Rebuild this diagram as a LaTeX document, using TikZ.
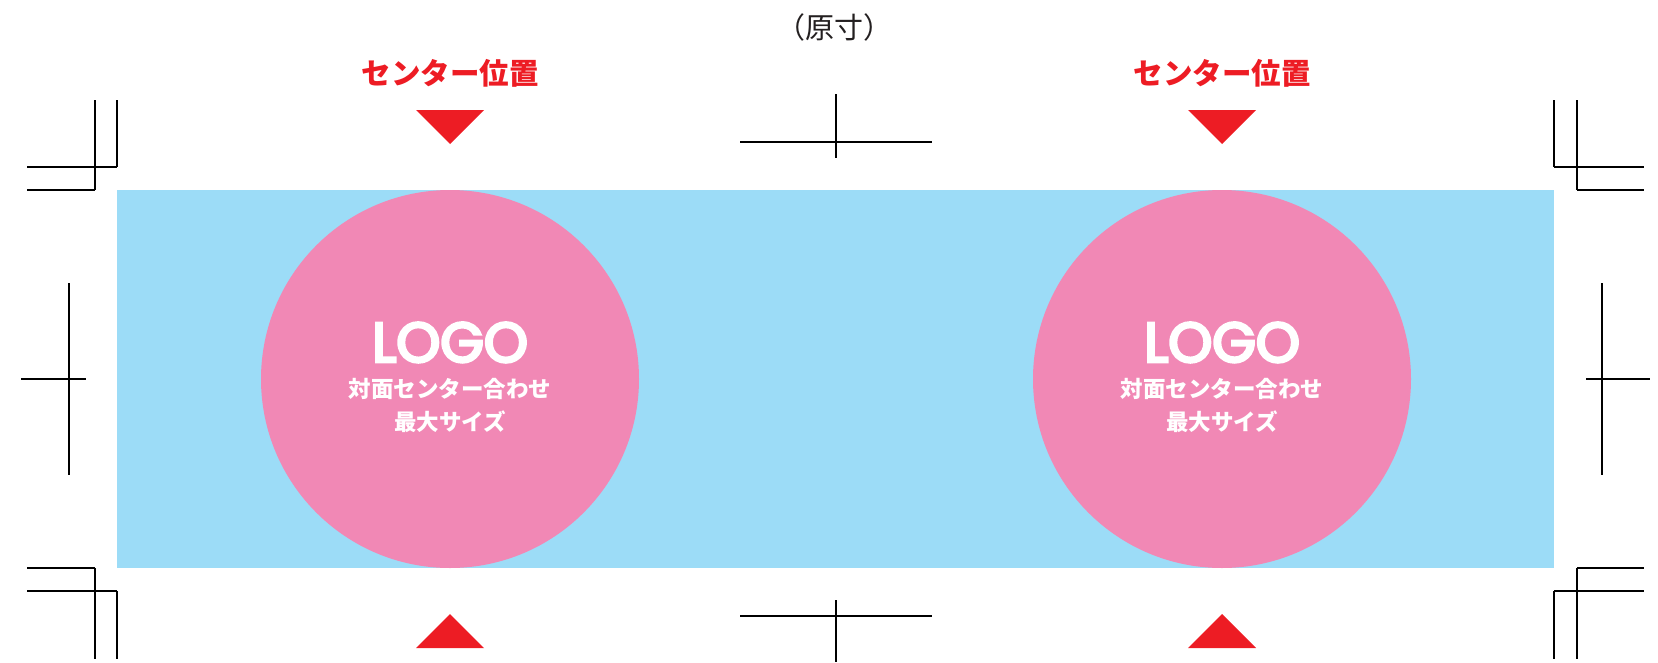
\documentclass[tikz,border=0pt]{standalone}
\usepackage{fontspec}
\newfontfamily\jp{Noto Sans CJK JP}
\newfontfamily\logofont{Poppins}[FakeBold=5]
\definecolor{bgblue}{HTML}{9CDCF7}
\definecolor{logopink}{HTML}{F188B5}
\definecolor{markred}{HTML}{ED1C24}
\definecolor{titlegray}{HTML}{231F20}
\begin{document}
\begin{tikzpicture}[x=1pt,y=-1pt,
  crop/.style={line width=1.1pt,black},
  tri/.style={fill=markred,draw=none},
  redlabel/.style={text=markred,font=\jp\bfseries\fontsize{29.5}{32}\selectfont,inner sep=0pt},
  logocircle/.style={circle,fill=logopink,minimum size=378pt,inner sep=0pt},
  logotext/.style={text=white,font=\logofont\fontsize{56}{56}\selectfont,inner sep=0pt,text height=40pt,text depth=0pt},
  subtext/.style={text=white,font=\jp\bfseries\fontsize{22.5}{33}\selectfont,inner sep=0pt,align=center}]
\useasboundingbox (0,0) rectangle (1658,662);
% background area
\fill[bgblue] (117,190) rectangle (1554,568);
% circles
\node[logocircle] (c1) at (450,379) {};
\node[logocircle] (c2) at (1222,379) {};
\foreach \c/\x in {1/450,2/1222}{
  \node[logotext] (logo\c) at (\x,342) {LOGO};
  \node[subtext] (s\c) at (\x,405) {対面センター合わせ\\最大サイズ};
  \node[redlabel] (r\c) at (\x,73) {センター位置};
}
% title
\node[text=titlegray,font=\jp\fontsize{29}{32}\selectfont,inner sep=0pt] (title) at (834,27) {（原寸）};
% triangles
\fill[tri] (416,110) -- (484,110) -- (450,144) -- cycle;
\fill[tri] (1188,110) -- (1256,110) -- (1222,144) -- cycle;
\fill[tri] (416,648) -- (484,648) -- (450,614) -- cycle;
\fill[tri] (1188,648) -- (1256,648) -- (1222,614) -- cycle;
% corner crop marks
\draw[crop] (95,100) -- (95,190);
\draw[crop] (117,100) -- (117,167);
\draw[crop] (27,167) -- (117,167);
\draw[crop] (27,190) -- (95,190);
\draw[crop] (27,568) -- (95,568);
\draw[crop] (95,568) -- (95,659);
\draw[crop] (27,591) -- (117,591);
\draw[crop] (117,591) -- (117,659);
\draw[crop] (1554,100) -- (1554,167);
\draw[crop] (1577,100) -- (1577,190);
\draw[crop] (1554,167) -- (1644,167);
\draw[crop] (1577,190) -- (1644,190);
\draw[crop] (1577,568) -- (1644,568);
\draw[crop] (1577,568) -- (1577,659);
\draw[crop] (1554,591) -- (1644,591);
\draw[crop] (1554,591) -- (1554,659);
% center crop marks
\draw[crop] (740,142) -- (932,142);
\draw[crop] (836,94) -- (836,158);
\draw[crop] (740,616) -- (932,616);
\draw[crop] (836,600) -- (836,662);
\draw[crop] (69,283) -- (69,475);
\draw[crop] (21,379) -- (86,379);
\draw[crop] (1602,283) -- (1602,475);
\draw[crop] (1586,379) -- (1650,379);
\end{tikzpicture}
\end{document}
